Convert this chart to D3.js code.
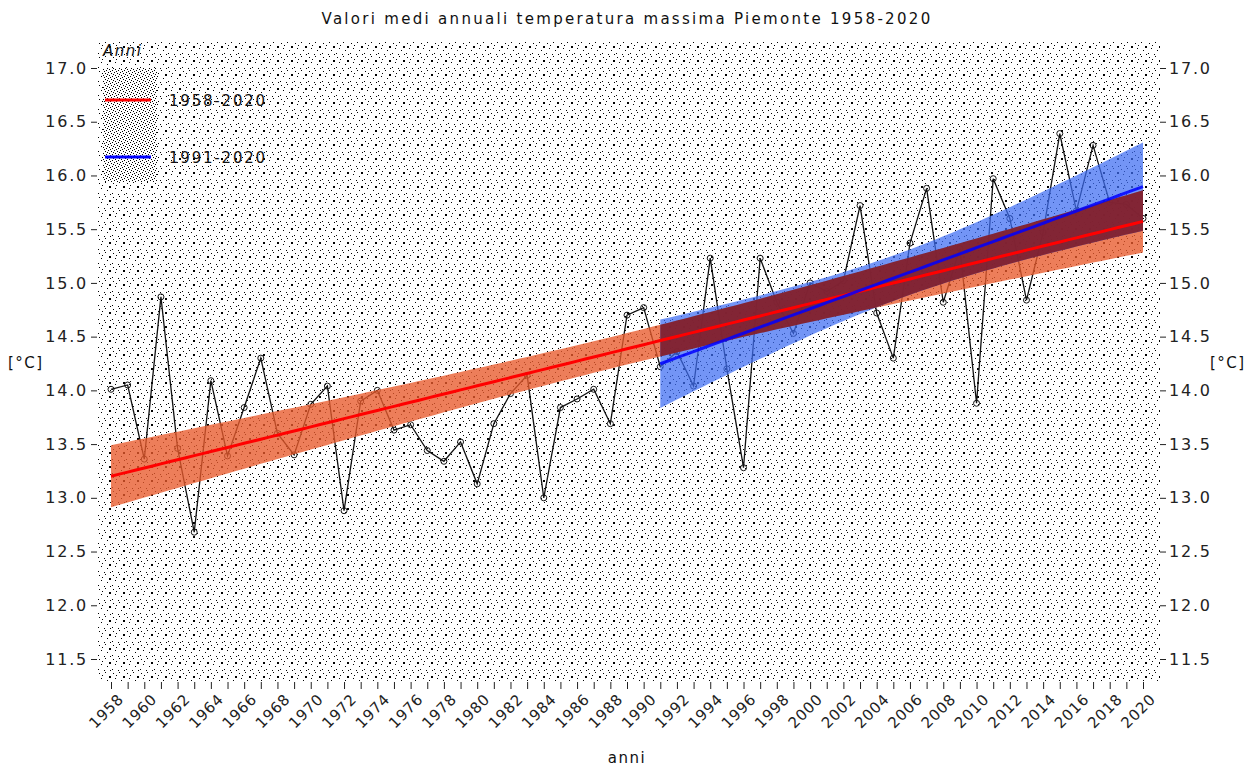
<!DOCTYPE html>
<html><head><meta charset="utf-8">
<script src="https://cdn.jsdelivr.net/npm/d3@7"></script>
<style>
body{margin:0;background:#fff;}
text{font-family:"DejaVu Sans",sans-serif;}
</style></head>
<body><svg id="c" width="1254" height="769"></svg>
<script>
const years = d3.range(1958, 2021);
const tmax = [14.01,14.05,13.36,14.87,13.46,12.68,14.09,13.39,13.84,14.30,
  13.60,13.40,13.87,14.04,12.88,13.90,14.00,13.63,13.68,13.44,
  13.34,13.52,13.13,13.69,13.97,14.14,13.00,13.84,13.92,14.01,
  13.69,14.70,14.77,14.22,14.36,14.04,15.23,14.20,13.28,15.23,
  14.82,14.53,15.00,14.92,15.02,15.72,14.72,14.30,15.37,15.88,
  14.82,15.32,13.88,15.97,15.60,14.84,15.47,16.39,15.67,16.28,
  15.75,15.73,15.60];
const periods = [{name:"1958-2020", from:1958, to:2020, color:"#ff0000", band:"#e85a2c"},
                 {name:"1991-2020", from:1991, to:2020, color:"#0000ff", band:"#3d6cf2"}];
const yTicks = [11.5,12,12.5,13,13.5,14,14.5,15,15.5,16,16.5,17];
const xTickLabels = d3.range(1958, 2021, 2);
const title = "Valori medi annuali temperatura massima Piemonte 1958-2020";

const svg = d3.select("#c");
const x = d3.scaleLinear().domain([1958, 2020]).range([111, 1143]);
const y = d3.scaleLinear().domain([11.5, 17]).range([659, 68]);
const panel = {x0:97, x1:1160, y0:42, y1:682};
const LS = "1.5px";

const defs = svg.append("defs");
function dotPattern(id, size, dots, bg){
  const p = defs.append("pattern").attr("id", id).attr("patternUnits","userSpaceOnUse")
    .attr("width", size).attr("height", size);
  p.append("rect").attr("width", size).attr("height", size).attr("fill", bg);
  dots.forEach(d => p.append("rect").attr("x", d[0]).attr("y", d[1]).attr("width", d[2]||1).attr("height", d[2]||1).attr("fill", "#000"));
}
dotPattern("bgdots", 14, [[1,1],[7,0],[11,4,2],[3,6],[9,8],[0,11],[6,12],[12,12],[4,3]], "#fff");
dotPattern("keydots", 6, [[0,0],[3,1],[1,3],[4,4],[5,2],[2,5]], "#fff");

svg.append("rect").attr("x", panel.x0).attr("y", panel.y0).attr("width", panel.x1-panel.x0)
  .attr("height", panel.y1-panel.y0).attr("fill", "url(#bgdots)");

const pts = years.map((yr,i)=>({yr, v:tmax[i]}));
svg.append("path").datum(pts).attr("fill","none").attr("stroke","#111").attr("stroke-width",1.3)
  .attr("d", d3.line().x(d=>x(d.yr)).y(d=>y(d.v)));
svg.selectAll("circle.pt").data(pts).join("circle").attr("class","pt")
  .attr("cx", d=>x(d.yr)).attr("cy", d=>y(d.v)).attr("r", 3)
  .attr("fill","none").attr("stroke","#111").attr("stroke-width",1);

function fit(p){
  const sub = pts.filter(d=>d.yr>=p.from && d.yr<=p.to);
  const n = sub.length;
  const mx = d3.mean(sub, d=>d.yr), my = d3.mean(sub, d=>d.v);
  const sxx = d3.sum(sub, d=>(d.yr-mx)**2);
  const sxy = d3.sum(sub, d=>(d.yr-mx)*(d.v-my));
  const b = sxy/sxx, a = my - b*mx;
  const s = Math.sqrt(d3.sum(sub, d=>(d.v-(a+b*d.yr))**2)/(n-2));
  const t = n>40 ? 2.0 : 2.048;
  const xs = d3.range(p.from, p.to+0.001, 0.5);
  return xs.map(xx=>{
    const f = a+b*xx;
    const se = s*Math.sqrt(1/n + (xx-mx)**2/sxx);
    return {yr:xx, f, lo:f-t*se, hi:f+t*se};
  });
}
const fits = periods.map(fit);
const area = d3.area().x(d=>x(d.yr)).y0(d=>y(d.lo)).y1(d=>y(d.hi));
const line = d3.line().x(d=>x(d.yr)).y(d=>y(d.f));

defs.append("clipPath").attr("id","blueclip").append("path").attr("d", area(fits[1]));

svg.append("path").attr("d", area(fits[0])).attr("fill", periods[0].band).attr("opacity",0.78);
svg.append("path").attr("d", area(fits[1])).attr("fill", periods[1].band).attr("opacity",0.72);
svg.append("path").attr("d", area(fits[0])).attr("fill", "#861515").attr("opacity",0.82).attr("clip-path","url(#blueclip)");
svg.append("path").attr("d", line(fits[0])).attr("fill","none").attr("stroke", periods[0].color).attr("stroke-width",3);
svg.append("path").attr("d", line(fits[1])).attr("fill","none").attr("stroke", periods[1].color).attr("stroke-width",3).attr("opacity",0.85);

const fmt = d3.format(".1f");
const gl = svg.append("g").attr("transform", `translate(${panel.x0},0)`)
  .call(d3.axisLeft(y).tickValues(yTicks).tickFormat(fmt).tickSize(6).tickPadding(3));
const gr = svg.append("g").attr("transform", `translate(${panel.x1},0)`)
  .call(d3.axisRight(y).tickValues(yTicks).tickFormat(fmt).tickSize(6).tickPadding(3));
[gl,gr].forEach(g=>{
  g.select(".domain").remove();
  g.selectAll("text").attr("font-size",16).attr("fill","#222").attr("font-family","DejaVu Sans, sans-serif").style("letter-spacing","1.8px");
  g.selectAll("line").attr("stroke","#222");
});
const gx = svg.append("g").attr("transform", `translate(0,${panel.y1})`)
  .call(d3.axisBottom(x).tickValues(years).tickFormat(d=> xTickLabels.includes(d) ? String(d) : "").tickSize(7).tickPadding(3));
gx.select(".domain").remove();
gx.selectAll("line").attr("stroke","#222");
gx.selectAll("text").attr("font-size",15).attr("fill","#222").attr("font-family","DejaVu Sans, sans-serif").style("letter-spacing","0.8px")
  .attr("text-anchor","end").attr("dy",0).attr("transform","translate(6,11) rotate(-45)");

svg.append("text").attr("x",627).attr("y",24).attr("text-anchor","middle").attr("font-size",15).style("letter-spacing","2.3px").attr("fill","#111").text(title);
svg.append("text").attr("x",627).attr("y",763).attr("text-anchor","middle").attr("font-size",15).style("letter-spacing",LS).attr("fill","#111").text("anni");
svg.append("text").attr("x",8).attr("y",368).attr("font-size",15).style("letter-spacing",LS).attr("fill","#111").text("[°C]");
svg.append("text").attr("x",1210).attr("y",368).attr("font-size",15).style("letter-spacing",LS).attr("fill","#111").text("[°C]");

const lg = svg.append("g");
lg.append("text").attr("x",103).attr("y",56).attr("font-size",15).attr("font-style","italic").style("letter-spacing",LS).attr("fill","#111").text("Anni");
lg.append("rect").attr("x",103).attr("y",68).attr("width",54).attr("height",114).attr("fill","url(#keydots)");
periods.forEach((p,i)=>{
  const yy = 100 + i*57;
  lg.append("line").attr("x1",105).attr("x2",151).attr("y1",yy).attr("y2",yy).attr("stroke",p.color).attr("stroke-width",3);
  lg.append("text").attr("x",169).attr("y",yy+6).attr("font-size",15).style("letter-spacing","1.8px").attr("fill","#111").text(p.name);
});
</script></body></html>
